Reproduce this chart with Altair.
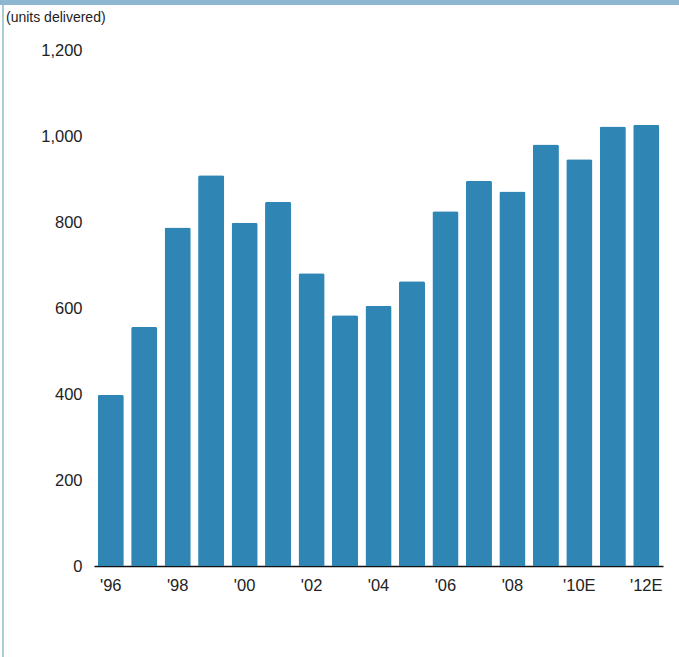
import altair as alt
import pandas as pd

years = ["'96", "'97", "'98", "'99", "'00", "'01", "'02", "'03", "'04",
         "'05", "'06", "'07", "'08", "'09", "'10E", "'11E", "'12E"]
units = [398, 556, 787, 909, 798, 847, 681, 583, 605,
         662, 825, 896, 871, 980, 946, 1022, 1026]
shown_labels = ["'96", "'98", "'00", "'02", "'04", "'06", "'08", "'10E", "'12E"]
y_ticks = [0, 200, 400, 600, 800, 1000, 1200]

df = pd.DataFrame({"year": years, "units": units})
one = pd.DataFrame({"k": [0]})

FONT = "Liberation Sans"

bars = alt.Chart(df).mark_bar(color="#2f86b5", cornerRadiusTopLeft=2, cornerRadiusTopRight=2).encode(
    x=alt.X("year:N", sort=years,
            scale=alt.Scale(paddingInner=0.22, paddingOuter=0.11),
            axis=alt.Axis(title=None, values=shown_labels, labelAngle=0, ticks=False,
                          domain=True, domainColor="#111", domainWidth=1.5,
                          labelFontSize=16.5, labelFont=FONT, labelColor="#222",
                          labelPadding=11, grid=False)),
    y=alt.Y("units:Q", scale=alt.Scale(domain=[0, 1200], nice=False),
            axis=alt.Axis(title=None, values=y_ticks, format=",d", ticks=False,
                          domain=False, grid=False, labelFontSize=16.5, labelFont=FONT,
                          labelColor="#222", labelPadding=12)),
)

top_border = alt.Chart(one).mark_rule(color="#8db6d1", strokeWidth=5).encode(
    x=alt.value(-94), x2=alt.value(585), y=alt.value(-47.5)
)
left_border = alt.Chart(one).mark_rule(color="#a9cdd6", strokeWidth=2).encode(
    x=alt.value(-91), y=alt.value(-45), y2=alt.value(607)
)
caption = alt.Chart(one).mark_text(align="left", baseline="alphabetic", fontSize=14,
                                   font=FONT, color="#222").encode(
    x=alt.value(-88), y=alt.value(-28), text=alt.value("(units delivered)")
)

chart = alt.layer(bars, top_border, left_border, caption).properties(
    width=569, height=516,
    background="white",
    autosize=alt.AutoSizeParams(type="none"),
    padding={"left": 94, "top": 50, "right": 16, "bottom": 91},
).configure_view(stroke="transparent", strokeWidth=0)

chart.save("out.html", embed_options={"renderer": "svg", "actions": False})
